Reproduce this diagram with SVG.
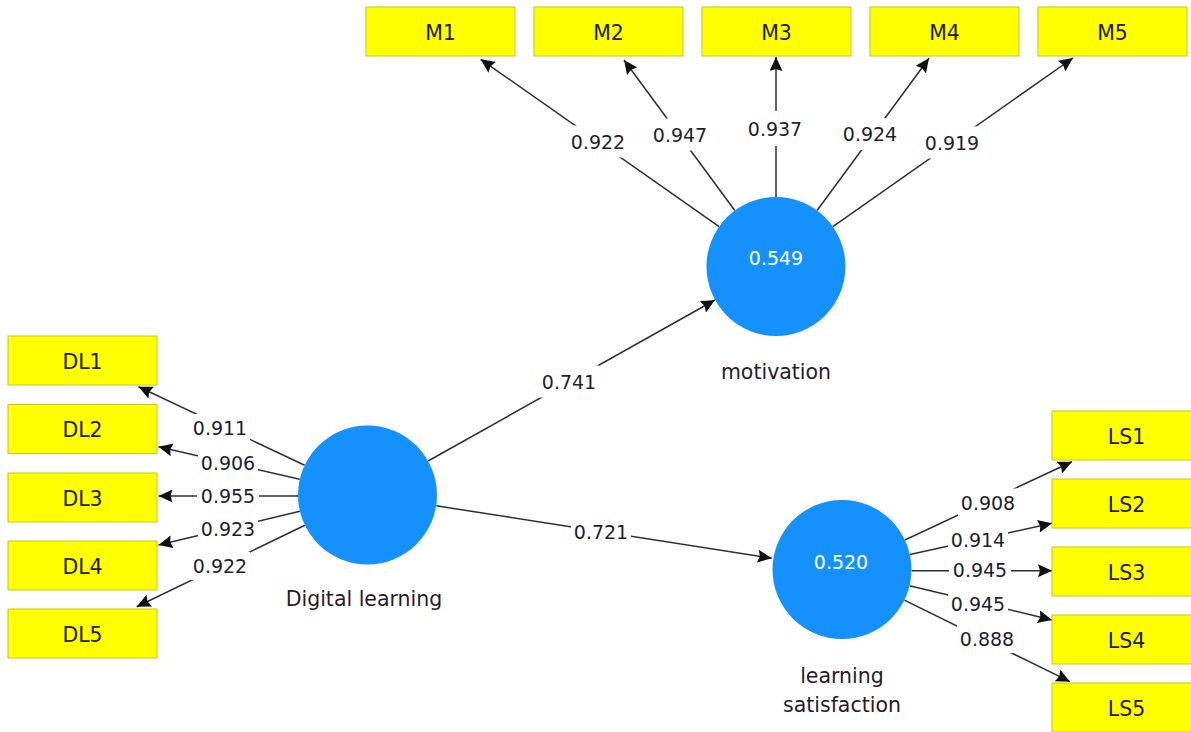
<svg xmlns="http://www.w3.org/2000/svg" width="1191" height="732" viewBox="0 0 1191 732">
  <style>
    .box { fill: #ffff00; stroke: #c8c420; stroke-width: 1; }
    .btxt { font-family: "DejaVu Sans", sans-serif; font-size: 20.5px; fill: #221a1a; text-anchor: middle; }
    .lv { fill: #1591fd; }
    .vtxt { font-family: "DejaVu Sans", sans-serif; font-size: 19px; fill: #ffffff; text-anchor: middle; }
    .ntxt { font-family: "DejaVu Sans", sans-serif; font-size: 20.5px; fill: #2a1a26; text-anchor: middle; }
    .ln { stroke: #2e2e2e; stroke-width: 1.5; fill: none; marker-end: url(#ah); }
    .lbg { fill: #ffffff; }
    .ltxt { font-family: "DejaVu Sans", sans-serif; font-size: 19px; fill: #1e1e2a; text-anchor: middle; }
  </style>
  <defs>
    <marker id="ah" markerWidth="15" markerHeight="13" refX="14" refY="6.5" orient="auto" markerUnits="userSpaceOnUse">
      <path d="M0,0 L14,6.5 L0,13 L2,6.5 z" fill="#111111"/>
    </marker>
  </defs>
  <rect width="1191" height="732" fill="#ffffff"/>

  <g id="connectors">
    <line class="ln" x1="428.1" y1="461" x2="715" y2="300"/>
    <line class="ln" x1="436.2" y1="505.8" x2="771.7" y2="558.3"/>
    <line class="ln" x1="719.1" y1="226.6" x2="480.7" y2="59.3"/>
    <line class="ln" x1="734.8" y1="210.5" x2="624" y2="60"/>
    <line class="ln" x1="776" y1="197" x2="776" y2="57"/>
    <line class="ln" x1="817.1" y1="210.5" x2="929" y2="58.3"/>
    <line class="ln" x1="832.9" y1="226.6" x2="1073" y2="58"/>
    <line class="ln" x1="304.7" y1="465.3" x2="138.5" y2="386.7"/>
    <line class="ln" x1="299.8" y1="479.3" x2="158.5" y2="446.7"/>
    <line class="ln" x1="298" y1="496" x2="158.5" y2="496"/>
    <line class="ln" x1="299.9" y1="511.2" x2="158.5" y2="545"/>
    <line class="ln" x1="304.9" y1="525.3" x2="136.7" y2="606.7"/>
    <line class="ln" x1="904.9" y1="540" x2="1072" y2="461.7"/>
    <line class="ln" x1="909.9" y1="554.6" x2="1052" y2="523.3"/>
    <line class="ln" x1="911.5" y1="570.7" x2="1052" y2="570.7"/>
    <line class="ln" x1="909.6" y1="585.7" x2="1052" y2="620"/>
    <line class="ln" x1="904.4" y1="600.2" x2="1070" y2="681.7"/>

    <g id="labels">
      <rect class="lbg" x="539" y="365.5" width="60" height="32"/><text class="ltxt" x="569" y="388.5">0.741</text>
      <rect class="lbg" x="571" y="515.5" width="60" height="32"/><text class="ltxt" x="601" y="538.5">0.721</text>
      <rect class="lbg" x="568" y="125.5" width="60" height="32"/><text class="ltxt" x="598" y="148.5">0.922</text>
      <rect class="lbg" x="650" y="118.5" width="60" height="32"/><text class="ltxt" x="680" y="141.5">0.947</text>
      <rect class="lbg" x="745" y="111" width="60" height="35"/><text class="ltxt" x="775" y="135.5">0.937</text>
      <rect class="lbg" x="840" y="118" width="60" height="32"/><text class="ltxt" x="870" y="141">0.924</text>
      <rect class="lbg" x="922" y="126.5" width="60" height="32"/><text class="ltxt" x="952" y="149.5">0.919</text>
      <rect class="lbg" x="190" y="414" width="60" height="28"/><text class="ltxt" x="220" y="434.5">0.911</text>
      <rect class="lbg" x="198" y="449" width="60" height="28"/><text class="ltxt" x="228" y="470">0.906</text>
      <rect class="lbg" x="197" y="482" width="62" height="28"/><text class="ltxt" x="228" y="503">0.955</text>
      <rect class="lbg" x="198" y="515" width="60" height="28"/><text class="ltxt" x="228" y="536">0.923</text>
      <rect class="lbg" x="190" y="552" width="60" height="28"/><text class="ltxt" x="220" y="573">0.922</text>
      <rect class="lbg" x="958" y="488.5" width="60" height="28"/><text class="ltxt" x="988" y="509.5">0.908</text>
      <rect class="lbg" x="948" y="526" width="60" height="28"/><text class="ltxt" x="978" y="547">0.914</text>
      <rect class="lbg" x="949" y="556" width="62" height="28"/><text class="ltxt" x="980" y="577">0.945</text>
      <rect class="lbg" x="948" y="590" width="60" height="28"/><text class="ltxt" x="978" y="611">0.945</text>
      <rect class="lbg" x="957" y="625" width="60" height="28"/><text class="ltxt" x="987" y="646">0.888</text>
    </g>
  </g>

  <g id="node-M1"><rect class="box" x="366" y="7" width="149" height="49"/><text class="btxt" x="440.5" y="39.5">M1</text></g>
  <g id="node-M2"><rect class="box" x="534" y="7" width="149" height="49"/><text class="btxt" x="608.5" y="39.5">M2</text></g>
  <g id="node-M3"><rect class="box" x="702" y="7" width="149" height="49"/><text class="btxt" x="776.5" y="39.5">M3</text></g>
  <g id="node-M4"><rect class="box" x="870" y="7" width="149" height="49"/><text class="btxt" x="944.5" y="39.5">M4</text></g>
  <g id="node-M5"><rect class="box" x="1038" y="7" width="149" height="49"/><text class="btxt" x="1112.5" y="39.5">M5</text></g>

  <g id="node-DL1"><rect class="box" x="8" y="336" width="149" height="49"/><text class="btxt" x="82.5" y="368.5">DL1</text></g>
  <g id="node-DL2"><rect class="box" x="8" y="404.5" width="149" height="49"/><text class="btxt" x="82.5" y="437">DL2</text></g>
  <g id="node-DL3"><rect class="box" x="8" y="473" width="149" height="49"/><text class="btxt" x="82.5" y="505.5">DL3</text></g>
  <g id="node-DL4"><rect class="box" x="8" y="541" width="149" height="49"/><text class="btxt" x="82.5" y="573.5">DL4</text></g>
  <g id="node-DL5"><rect class="box" x="8" y="609" width="149" height="49"/><text class="btxt" x="82.5" y="641.5">DL5</text></g>

  <g id="node-LS1"><rect class="box" x="1052" y="411" width="149" height="49"/><text class="btxt" x="1126.5" y="443.5">LS1</text></g>
  <g id="node-LS2"><rect class="box" x="1052" y="479" width="149" height="49"/><text class="btxt" x="1126.5" y="511.5">LS2</text></g>
  <g id="node-LS3"><rect class="box" x="1052" y="547" width="149" height="49"/><text class="btxt" x="1126.5" y="579.5">LS3</text></g>
  <g id="node-LS4"><rect class="box" x="1052" y="615" width="149" height="49"/><text class="btxt" x="1126.5" y="647.5">LS4</text></g>
  <g id="node-LS5"><rect class="box" x="1052" y="683" width="149" height="49"/><text class="btxt" x="1126.5" y="715.5">LS5</text></g>

  <g id="node-digital-learning">
    <circle class="lv" cx="367.5" cy="495" r="69.5"/>
    <text class="ntxt" x="364" y="606">Digital learning</text>
  </g>
  <g id="node-motivation">
    <circle class="lv" cx="776" cy="266.5" r="69.5"/>
    <text class="vtxt" x="776" y="265.3">0.549</text>
    <text class="ntxt" x="776" y="379">motivation</text>
  </g>
  <g id="node-learning-satisfaction">
    <circle class="lv" cx="842" cy="569.5" r="69.5"/>
    <text class="vtxt" x="841" y="568.7">0.520</text>
    <text class="ntxt" x="842" y="683">learning</text>
    <text class="ntxt" x="842" y="711.5">satisfaction</text>
  </g>
</svg>
